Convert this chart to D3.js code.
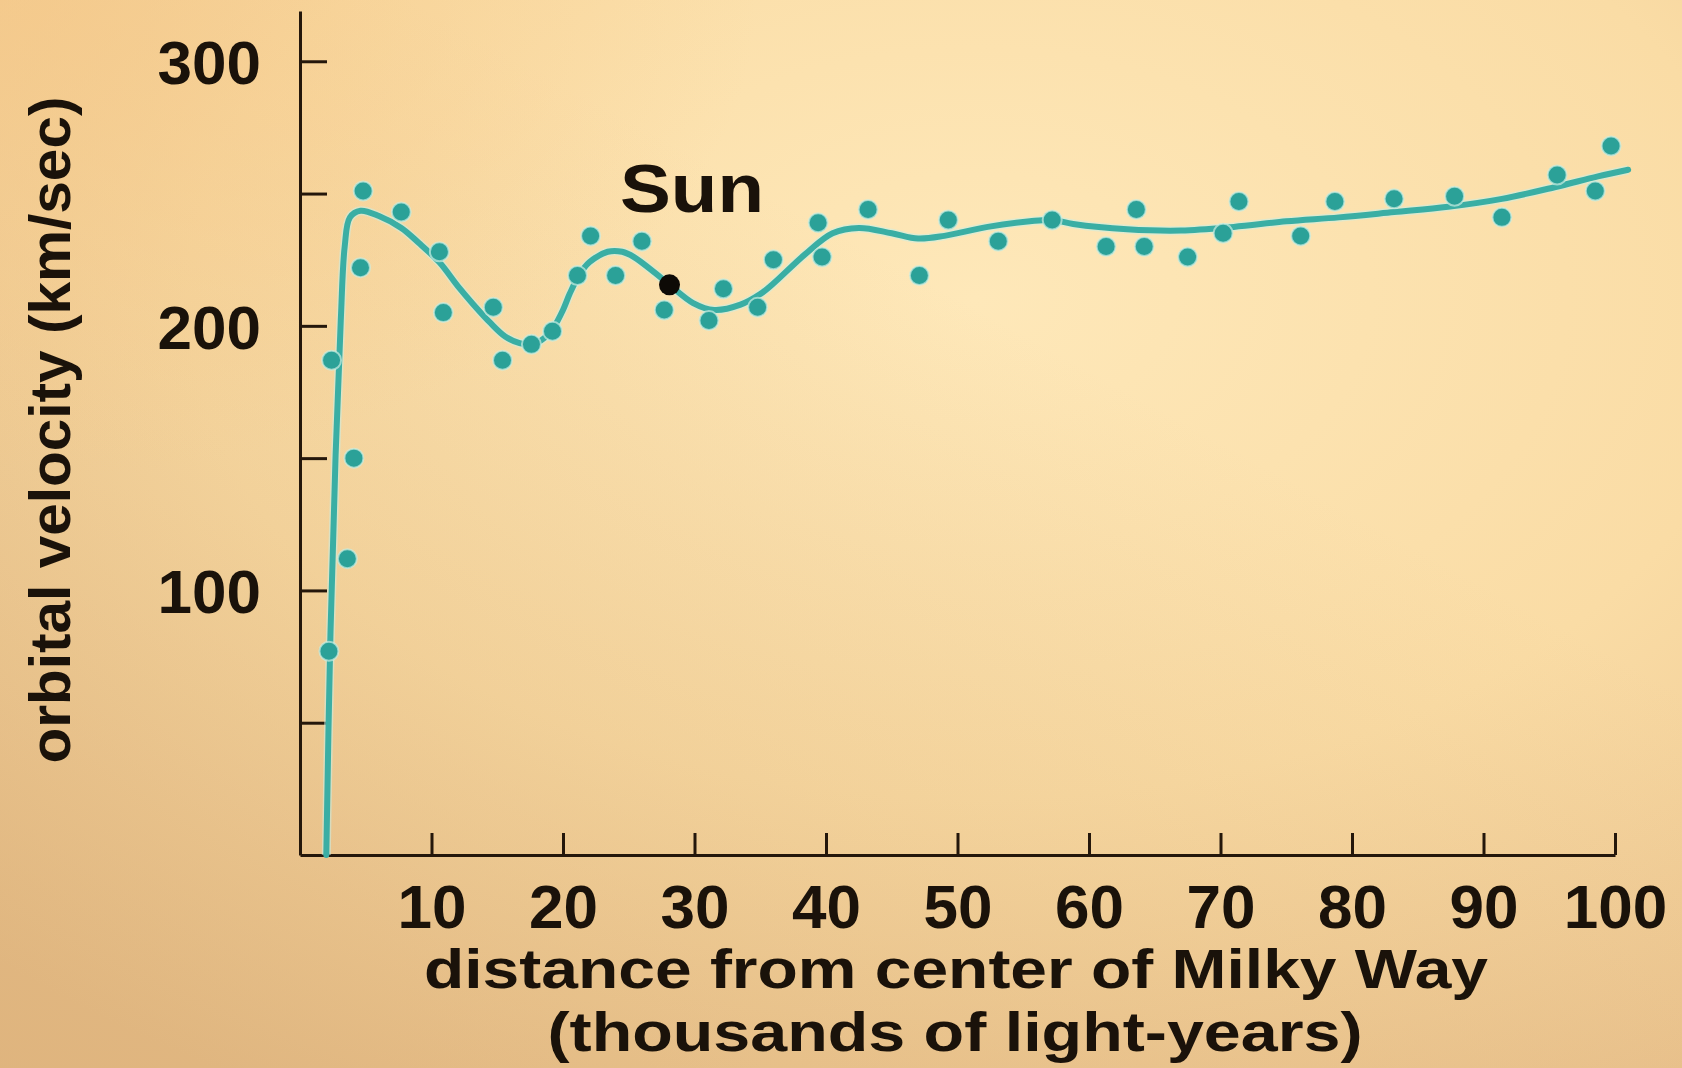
<!DOCTYPE html>
<html>
<head>
<meta charset="utf-8">
<script src="https://cdn.jsdelivr.net/npm/d3@7"></script>
<style>
  body { margin: 0; background: #f7d9a2; }
  svg { display: block; font-family: "Liberation Sans", Arial, Helvetica, sans-serif; font-weight: bold; }
  .axis path, .axis line { stroke: #24170b; stroke-width: 3; }
  .axis text { fill: #1a120a; font-size: 62px; font-weight: bold; }
</style>
</head>
<body>
<div id="chart"></div>
<script>
// measured points (thousands of light-years, km/sec)
const starDist = [2.2, 3.6, 4.1, 2.4, 4.6, 4.8, 7.7, 10.6, 10.9, 14.7, 15.4, 17.6, 19.2, 21.1, 22.1, 24.0, 26.0, 27.7,
                  31.1, 32.2, 34.8, 36.0, 39.4, 39.7, 43.2, 47.1, 49.3, 53.1, 57.2, 61.3, 63.6, 64.2, 67.5, 70.2, 71.4,
                  76.1, 78.7, 83.2, 87.8, 91.4, 95.6, 98.5, 99.7];
const starVel  = [77, 112, 150, 187, 222, 251, 243, 228, 205, 207, 187, 193, 198, 219, 234, 219, 232, 206,
                  202, 214, 207, 225, 239, 226, 244, 219, 240, 232, 240, 230, 244, 230, 226, 235, 247,
                  234, 247, 248, 249, 241, 257, 251, 268];

// fitted rotation curve
const curveDist = [2.0, 2.3, 2.7, 3.1, 3.4, 3.8, 4.6, 6, 7.7, 9, 10.6, 12, 13.2, 14.5, 15.6, 16.7, 17.7, 18.6, 19.3,
                   20, 20.5, 21.2, 22, 23.4, 24.5, 25.4, 27, 28.1, 29.9, 31.5, 33.5, 35, 36, 38.4, 40.5, 42.5, 45,
                   47, 49, 52.3, 55.5, 57.2, 58.8, 62.9, 67, 71, 75, 79, 83.2, 87.3, 91.4, 95.4, 98.7, 101];
const curveVel  = [0, 80, 150, 202, 230, 241, 243.5, 241.5, 237, 231.5, 224, 215, 208, 201, 196, 193.5, 193, 195.5, 199.5,
                   206, 212, 219, 224, 228, 228, 226, 220, 215.5, 208.6, 206, 208, 212, 216, 227, 235, 237, 235,
                   233, 234, 237.4, 239.5, 240, 238.5, 236.5, 236, 237.4, 239.5, 241, 243, 245, 248, 252.4, 256.5, 259];

const sunPos = { dist: 28.1, vel: 215.5, label: "Sun" };

const xTicks = [10, 20, 30, 40, 50, 60, 70, 80, 90, 100];
const yTicks = [50, 100, 150, 200, 250, 300];
const yLabelled = [100, 200, 300];

const yTitle = "orbital velocity (km/sec)";
const xTitle1 = "distance from center of Milky Way";
const xTitle2 = "(thousands of light-years)";

const width = 1682, height = 1068;

const svg = d3.select("#chart").append("svg")
    .attr("width", width)
    .attr("height", height);

// paper background
const defs = svg.append("defs");
const bg = defs.append("radialGradient").attr("id", "bg")
    .attr("cx", "58%").attr("cy", "28%").attr("r", "85%");
bg.append("stop").attr("offset", "0%").attr("stop-color", "#fee8b9");
bg.append("stop").attr("offset", "55%").attr("stop-color", "#fadca5");
bg.append("stop").attr("offset", "100%").attr("stop-color", "#ebc48f");
const shade = defs.append("linearGradient").attr("id", "shade")
    .attr("x1", "0%").attr("y1", "100%").attr("x2", "60%").attr("y2", "30%");
shade.append("stop").attr("offset", "0%").attr("stop-color", "#c9985f").attr("stop-opacity", 0.35);
shade.append("stop").attr("offset", "100%").attr("stop-color", "#c9985f").attr("stop-opacity", 0);
const tl = defs.append("radialGradient").attr("id", "tl")
    .attr("cx", "0%").attr("cy", "0%").attr("r", "45%");
tl.append("stop").attr("offset", "0%").attr("stop-color", "#f5c98a").attr("stop-opacity", 0.8);
tl.append("stop").attr("offset", "100%").attr("stop-color", "#f5c98a").attr("stop-opacity", 0);

svg.append("rect").attr("width", width).attr("height", height).attr("fill", "url(#bg)");
svg.append("rect").attr("width", width).attr("height", height).attr("fill", "url(#shade)");
svg.append("rect").attr("width", width).attr("height", height).attr("fill", "url(#tl)");

// scales
const x = d3.scaleLinear().domain([0, 100]).range([300, 1615]);
const y = d3.scaleLinear().domain([0, 319]).range([855, 11]);

// y axis, ticks point inwards
svg.append("g")
    .attr("class", "axis")
    .attr("transform", `translate(${x(0)},0)`)
    .call(d3.axisLeft(y)
        .tickValues(yTicks)
        .tickSizeInner(-27)
        .tickSizeOuter(0)
        .tickPadding(39)
        .tickFormat(v => yLabelled.includes(v) ? v : ""))
    .call(g => g.selectAll("text").attr("dy", "0.36em"));

// x axis
svg.append("g")
    .attr("class", "axis")
    .attr("transform", `translate(0,${y(0)})`)
    .call(d3.axisBottom(x)
        .tickValues(xTicks)
        .tickSizeInner(-22)
        .tickSizeOuter(0)
        .tickPadding(29));

// rotation curve
const line = d3.line()
    .x((d, i) => x(curveDist[i]))
    .y((d, i) => y(curveVel[i]))
    .curve(d3.curveCatmullRom.alpha(0.5));

svg.append("path")
    .datum(curveDist)
    .attr("d", line)
    .attr("fill", "none")
    .attr("stroke", "#c8efe6")
    .attr("stroke-width", 9)
    .attr("opacity", 0.55);

svg.append("path")
    .datum(curveDist)
    .attr("d", line)
    .attr("fill", "none")
    .attr("stroke", "#3aaea4")
    .attr("stroke-width", 6)
    .attr("stroke-linecap", "round");

// star dots
svg.append("g").selectAll("circle")
    .data(starDist)
    .enter()
    .append("circle")
    .attr("cx", (d, i) => x(d))
    .attr("cy", (d, i) => y(starVel[i]))
    .attr("r", 9.5)
    .attr("fill", "#2ba198")
    .attr("stroke", "#c9eee2")
    .attr("stroke-width", 2)
    .attr("stroke-opacity", 0.7);

// sun
svg.append("circle")
    .attr("cx", x(sunPos.dist))
    .attr("cy", y(sunPos.vel))
    .attr("r", 10.5)
    .attr("fill", "#0d0a06");

svg.append("text")
    .attr("x", 620)
    .attr("y", 212)
    .attr("font-size", 68)
    .attr("textLength", 144)
    .attr("lengthAdjust", "spacingAndGlyphs")
    .attr("fill", "#1a120a")
    .text(sunPos.label);

// axis titles
svg.append("text")
    .attr("transform", "translate(70,430) rotate(-90)")
    .attr("text-anchor", "middle")
    .attr("font-size", 58)
    .attr("textLength", 667)
    .attr("lengthAdjust", "spacingAndGlyphs")
    .attr("fill", "#1a120a")
    .text(yTitle);

svg.append("text")
    .attr("x", 956)
    .attr("y", 988)
    .attr("text-anchor", "middle")
    .attr("font-size", 55)
    .attr("textLength", 1064)
    .attr("lengthAdjust", "spacingAndGlyphs")
    .attr("fill", "#1a120a")
    .text(xTitle1);

svg.append("text")
    .attr("x", 955)
    .attr("y", 1051)
    .attr("text-anchor", "middle")
    .attr("font-size", 55)
    .attr("textLength", 815)
    .attr("lengthAdjust", "spacingAndGlyphs")
    .attr("fill", "#1a120a")
    .text(xTitle2);
</script>
</body>
</html>
